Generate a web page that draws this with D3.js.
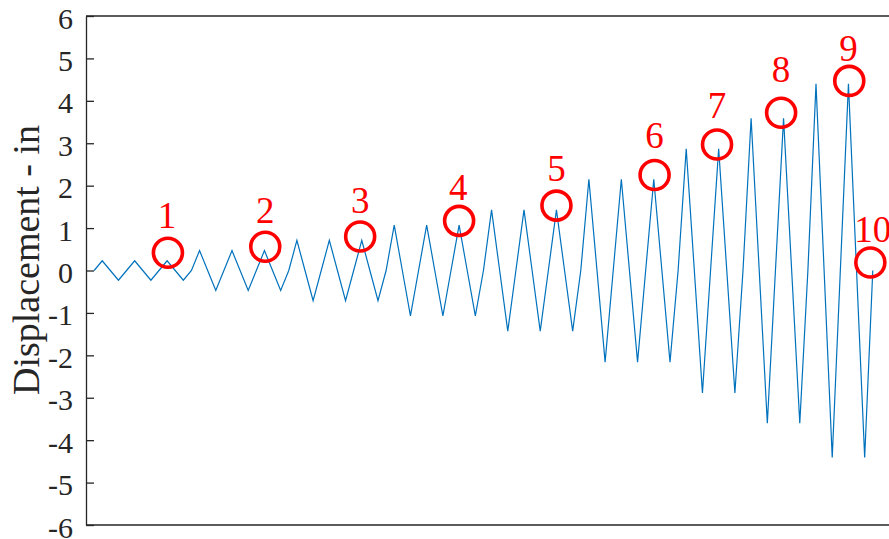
<!DOCTYPE html>
<html>
<head>
<meta charset="utf-8">
<script src="https://cdn.jsdelivr.net/npm/d3@7"></script>
<style>
  html, body { margin: 0; padding: 0; background: #fff; }
  svg { display: block; }
</style>
</head>
<body>
<svg id="chart" width="889" height="539"></svg>
<script>
// ---- data ----
const displacement = [
  0, 0.23, 0, -0.23, 0, 0.23, 0, -0.23, 0, 0.23, 0, -0.23,
  0, 0.47, 0, -0.47, 0, 0.47, 0, -0.47, 0, 0.47, 0, -0.47,
  0, 0.71, 0, -0.71, 0, 0.71, 0, -0.71, 0, 0.71, 0, -0.71,
  0, 1.07, 0, -1.07, 0, 1.07, 0, -1.07, 0, 1.07, 0, -1.07,
  0, 1.43, 0, -1.43, 0, 1.43, 0, -1.43, 0, 1.43, 0, -1.43,
  0, 2.15, 0, -2.16, 0, 2.15, 0, -2.16, 0, 2.15, 0, -2.16,
  0, 2.87, 0, -2.89, 0, 2.87, 0, -2.89,
  0, 3.59, 0, -3.6, 0, 3.59, 0, -3.6,
  0, 4.4, 0, -4.41, 0, 4.4, 0, -4.41,
  0
];
const yTicks = [-6, -5, -4, -3, -2, -1, 0, 1, 2, 3, 4, 5, 6];
const yLabel = "Displacement - in";
const markerLabels = ["1", "2", "3", "4", "5", "6", "7", "8", "9", "10"];
const markerStep = [9.1, 21.1, 32.8, 45.0, 57.0, 69.1, 76.8, 84.7, 93.1, 95.7];
const markerValue = [0.42, 0.56, 0.80, 1.17, 1.53, 2.25, 2.97, 3.72, 4.47, 0.19];
const labelStep = [9.0, 21.1, 32.8, 44.9, 57.0, 69.1, 76.8, 84.7, 93.0, 96.0];
const labelValue = [1.00, 1.11, 1.35, 1.66, 2.12, 2.88, 3.59, 4.44, 4.94, 0.68];

// ---- layout ----
const mLeft = 86, mTop = 16, mBottom = 525, mRight = 889;
const svg = d3.select("#chart");
const axisColor = "#262626";
const serif = "'Liberation Serif', 'Times New Roman', serif";

const x = d3.scaleLinear().domain([-1, 98]).range([mLeft, mRight]);
const y = d3.scaleLinear().domain([-6, 6]).range([mBottom, mTop]);

// box lines (top and bottom run off the right edge)
svg.append("line").attr("x1", mLeft).attr("x2", mRight + 20).attr("y1", mTop).attr("y2", mTop)
  .attr("stroke", axisColor).attr("stroke-width", 1.3);
svg.append("line").attr("x1", mLeft).attr("x2", mRight + 20).attr("y1", mBottom).attr("y2", mBottom)
  .attr("stroke", axisColor).attr("stroke-width", 1.3);

// y axis
const yAxis = d3.axisLeft(y).tickValues(yTicks).tickFormat(d => String(d))
  .tickSizeInner(-8).tickSizeOuter(0).tickPadding(13);
const gy = svg.append("g").attr("transform", `translate(${mLeft},0)`).call(yAxis);
gy.select(".domain").attr("stroke", axisColor).attr("stroke-width", 1.3);
gy.selectAll(".tick line").attr("stroke", axisColor).attr("stroke-width", 1.3);
gy.selectAll(".tick text").attr("fill", axisColor)
  .style("font-family", serif).style("font-size", "30px")
  .attr("dy", "0.4em");

// y label
svg.append("text")
  .attr("transform", `translate(39,260) rotate(-90)`)
  .attr("text-anchor", "middle")
  .style("font-family", serif).style("font-size", "38px")
  .attr("fill", axisColor)
  .text(yLabel);

// displacement line
const line = d3.line().x((d, i) => x(i)).y(d => y(d));
svg.append("path").datum(displacement)
  .attr("d", line).attr("fill", "none")
  .attr("stroke", "#0072BD").attr("stroke-width", 1.2)
  .attr("stroke-linejoin", "miter");

// annotations
const ann = svg.append("g");
markerLabels.forEach((lab, i) => {
  ann.append("circle")
    .attr("cx", x(markerStep[i])).attr("cy", y(markerValue[i]))
    .attr("r", 14.5).attr("fill", "none")
    .attr("stroke", "#FF0000").attr("stroke-width", 3.6);
  ann.append("text")
    .attr("x", x(labelStep[i])).attr("y", y(labelValue[i]))
    .attr("text-anchor", "middle")
    .style("font-family", serif).style("font-size", "37px")
    .attr("fill", "#FF0000")
    .text(lab);
});
</script>
</body>
</html>
